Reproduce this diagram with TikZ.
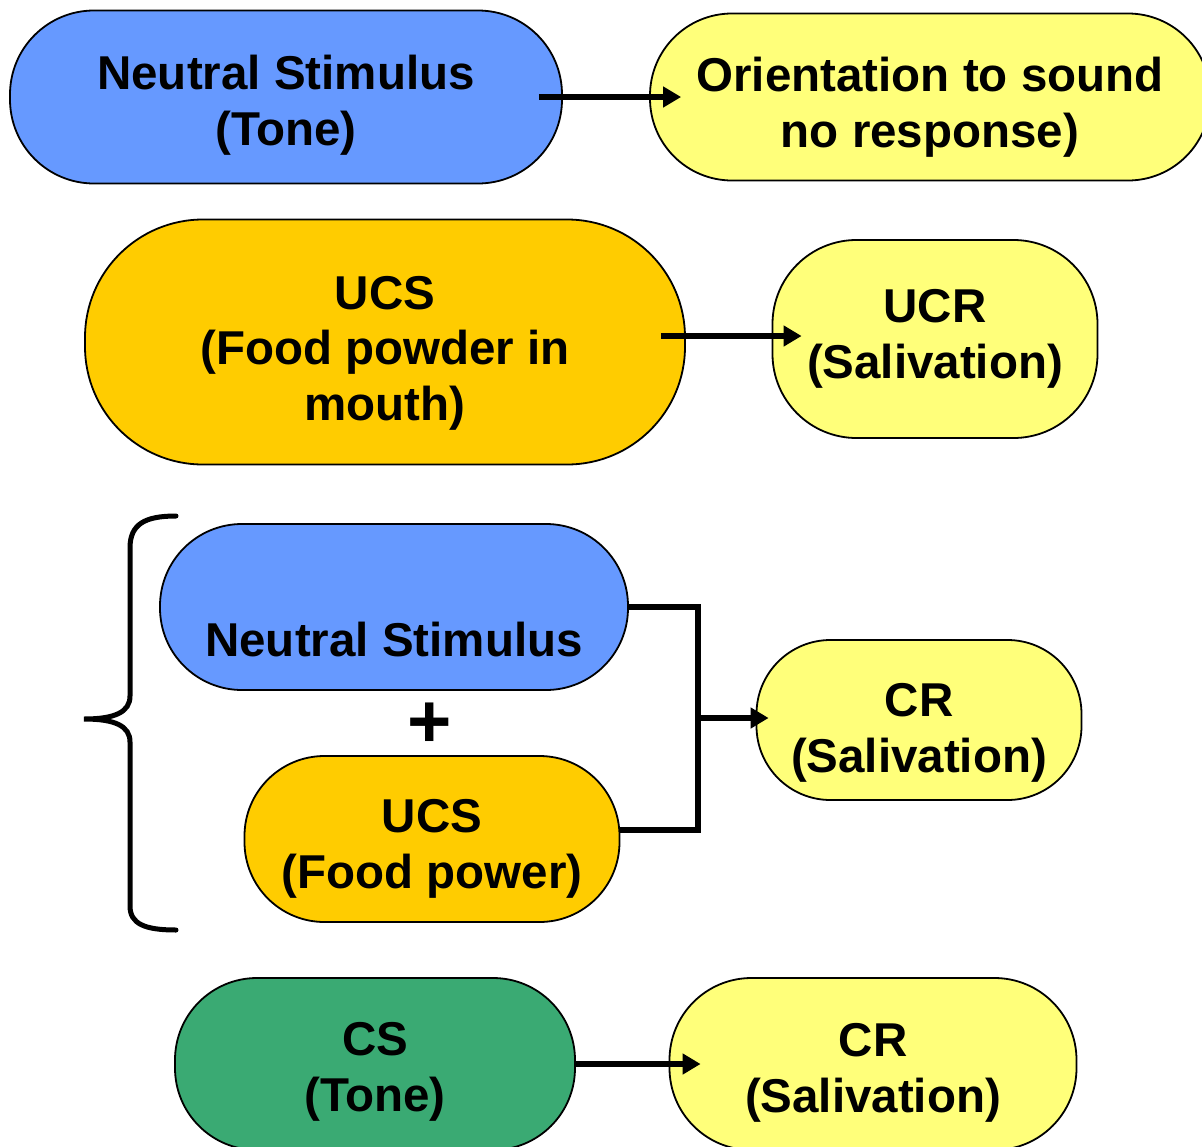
\documentclass[tikz,border=0pt]{standalone}
\usepackage{fontspec}
\setmainfont{Liberation Sans}
\usepackage{tikz}
\usetikzlibrary{arrows.meta, positioning, calc}

\definecolor{nsblue}{RGB}{102,153,255}
\definecolor{ucsgold}{RGB}{255,204,0}
\definecolor{respyellow}{RGB}{255,255,122}
\definecolor{csgreen}{RGB}{58,170,115}

% invisible strut that pushes a node's text down
\newcommand{\tdrop}[1]{\rule{0pt}{#1}}

\begin{document}
\begin{tikzpicture}[x=1pt, y=-1pt,
        pill/.style={rectangle, draw=black, line width=1.8pt, rounded corners=#1, inner sep=0pt, align=center,
            font=\bfseries\fontsize{47.5}{55.5}\selectfont},
        pill/.default=60pt,
        arrow/.style={-{Triangle[length=18pt,width=20pt]}, line width=6.5pt, black},
        conn/.style={line width=6.5pt, black},
        brace/.style={line width=5pt, black, line cap=round}
    ]
        \fill[white] (0,0) rectangle (1202,1146);
        \clip (0,0) rectangle (1202,1146);

        % first row
        \node[pill=84pt, fill=nsblue, minimum width=552pt, minimum height=173pt] (ns1) at (286, 97) {\tdrop{51pt}Neutral Stimulus\\(Tone)};
        \node[pill=82pt, fill=respyellow, minimum width=560pt, minimum height=167pt] (orient) at (930, 97) {\tdrop{55pt}Orientation to sound\\no response)};

        % second row
        \node[pill=118pt, fill=ucsgold, minimum width=600pt, minimum height=245pt] (ucs1) at (385, 342) {\tdrop{55pt}UCS\\(Food powder in\\mouth)};
        \node[pill=84pt, fill=respyellow, minimum width=325pt, minimum height=198pt] (ucr) at (935, 339) {UCR\\(Salivation)};

        % pairing
        \node[pill=82pt, fill=nsblue, minimum width=468pt, minimum height=166pt, text height=98pt, text depth=0pt] (ns2) at (394, 607) {Neutral Stimulus};
        \node[font=\bfseries\fontsize{76}{80}\selectfont, inner sep=0pt] (plus) at (430, 725) {+};
        \node[pill=80pt, fill=ucsgold, minimum width=375pt, minimum height=166pt] (ucs2) at (432, 839) {\tdrop{53pt}UCS\\(Food power)};
        \node[pill=74pt, fill=respyellow, minimum width=325pt, minimum height=160pt] (cr2) at (919, 720) {\tdrop{59pt}CR\\(Salivation)};

        % last row
        \node[pill=82pt, fill=csgreen, minimum width=400pt, minimum height=172pt] (cs) at (375, 1064) {\tdrop{49pt}CS\\(Tone)};
        \node[pill=82pt, fill=respyellow, minimum width=407pt, minimum height=172pt] (cr3) at (873, 1064) {\tdrop{51pt}CR\\(Salivation)};

        \draw[arrow] ([xshift=-24pt]ns1.east) -- ([xshift=32pt]orient.west);
        \draw[arrow] ($(ucs1.east |- ucr.west)+(-25pt,3pt)$) -- ($(ucr.west)+(30pt,3pt)$);

        \coordinate (jn) at (698, 718);
        \draw[conn] (ns2.east) -| (jn) |- ([yshift=9pt]ucs2.east);
        \draw[arrow] (jn) -- ($(cr2.west |- jn)+(13pt,0)$);

        \draw[arrow] (cs.east) -- ([xshift=32pt]cr3.west);

        % brace
        \draw[brace] (176,516) .. controls (145,516) and (130,524) .. (130,548) -- (130,696)
            .. controls (130,712) and (115,719) .. (84,719)
            .. controls (115,719) and (130,726) .. (130,742) -- (130,906)
            .. controls (130,924) and (145,930) .. (176,930);
    \end{tikzpicture}
\end{document}
